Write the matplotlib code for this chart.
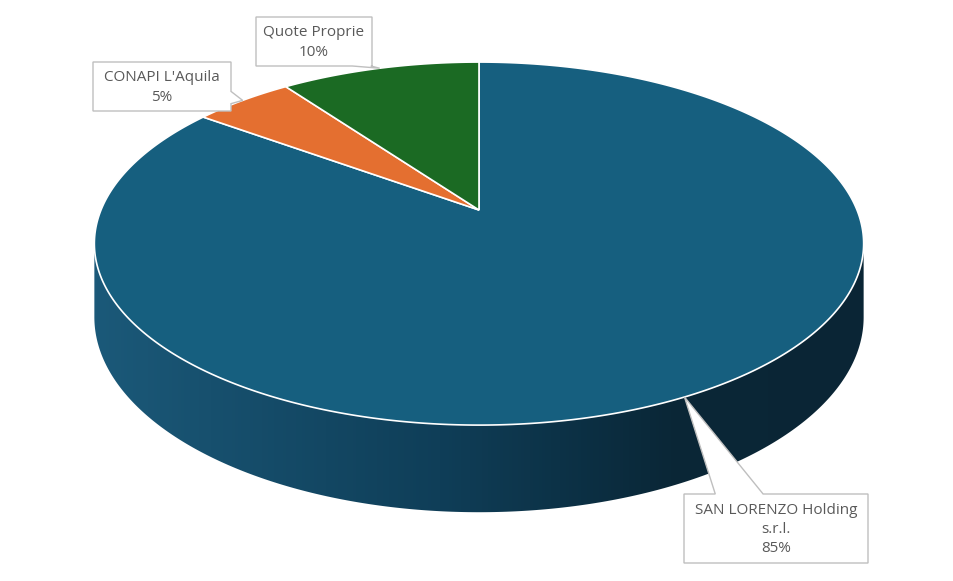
import numpy as np
import matplotlib
matplotlib.use('Agg')
import matplotlib.pyplot as plt
from matplotlib.patches import Polygon
from matplotlib.colors import LinearSegmentedColormap

# data
labels = ["SAN LORENZO Holding\ns.r.l.", "CONAPI L'Aquila", "Quote Proprie"]
values = [85, 5, 10]
colors = ["#165F7F", "#E46F30", "#1B6A23"]
wall_colors = ["#1B5979", "#0F3E58", "#0A2737", "#0A2535"]

# callout boxes in pixels (left, top, right, bottom) + wedge side and span
boxes = [(684, 494, 868, 563), (93, 62, 231, 111), (256, 17, 372, 66)]
wedges = [("top", 0.17, 0.43), ("right", 0.6, 0.85), ("bottom", 0.83, 0.99)]

W, H = 954, 581
cx, cy = 479, 210
sx, sy = 378, 175.3
k = 0.185          # perspective
D = 71             # side depth


def proj(t, z=0.0):
    t = np.radians(t)
    u, v = np.cos(t), np.sin(t)
    w = 1 + k * v
    return cx + sx * u / w, cy - sy * v / w + z / w


fig = plt.figure(figsize=(W / 100, H / 100), dpi=100)
ax = fig.add_axes([0, 0, 1, 1])
ax.set_xlim(0, W)
ax.set_ylim(H, 0)
ax.axis('off')

# side wall (front half)
tl = -180 + np.degrees(np.arcsin(k))
tr = -np.degrees(np.arcsin(k))
ts = np.linspace(tl, tr, 300)
top = np.column_stack(proj(ts))
bot = np.column_stack(proj(ts, D))
wall = Polygon(np.vstack([top, bot[::-1]]), closed=True, fc='none', ec='none')
ax.add_patch(wall)
cmap = LinearSegmentedColormap.from_list('wall', list(zip([0, 0.45, 0.75, 1], wall_colors)))
x0, x1 = top[:, 0].min(), top[:, 0].max()
im = ax.imshow(np.linspace(0, 1, 256)[None, :], cmap=cmap, aspect='auto',
               extent=(x0, x1, bot[:, 1].max() + 2, top[:, 1].min() - 2), zorder=1)
im.set_clip_path(wall)

# top slices, clockwise from 12 o'clock
total = sum(values)
start = 90.0
mids = []
for val, col in zip(values, colors):
    span = 360.0 * val / total
    ts = np.linspace(start, start - span, max(int(span * 2), 4))
    pts = np.column_stack(proj(ts))
    ax.add_patch(Polygon(np.vstack([[cx, cy], pts]), closed=True,
                         fc=col, ec='white', lw=1.2, zorder=2))
    mids.append(start - span / 2)
    start -= span

# callouts
for lab, val, mid, (l, t, r, b), (side, f0, f1) in zip(labels, values, mids, boxes, wedges):
    tip = proj(mid)
    corners = {"top": [(l, t), (r, t)], "right": [(r, t), (r, b)],
               "bottom": [(r, b), (l, b)], "left": [(l, b), (l, t)]}
    pts = []
    for s in ["top", "right", "bottom", "left"]:
        a, c = corners[s]
        pts.append(a)
        if s == side:
            pts.append((a[0] + (c[0] - a[0]) * f0, a[1] + (c[1] - a[1]) * f0) if s in ("top", "right")
                       else (l + (r - l) * f1, b))
            pts.append(tip)
            pts.append((a[0] + (c[0] - a[0]) * f1, a[1] + (c[1] - a[1]) * f1) if s in ("top", "right")
                       else (l + (r - l) * f0, b))
    ax.add_patch(Polygon(pts, closed=True, fc='white', ec='#BFBFBF', lw=1, zorder=5))
    pct = round(100 * val / total)
    ax.text((l + r) / 2, (t + b) / 2 + 1, f"{lab}\n{pct}%", ha='center', va='center',
            fontsize=11, color='#595959', family='Open Sans', linespacing=1.4, zorder=6)

fig.savefig('out.png', dpi=100)
